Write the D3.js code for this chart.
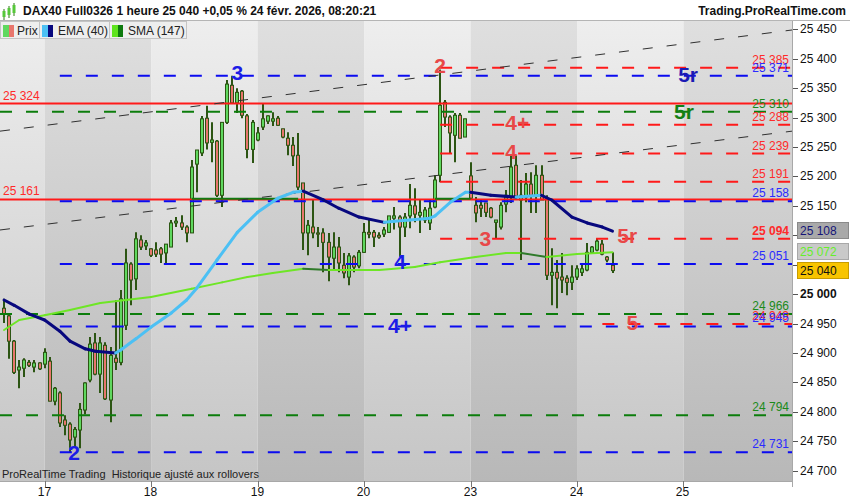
<!DOCTYPE html>
<html><head><meta charset="utf-8">
<script src="https://cdn.jsdelivr.net/npm/d3@7"></script>
<style>body{margin:0;background:#fff;} svg{display:block;font-family:"Liberation Sans",Arial,sans-serif;}</style>
</head><body><svg id="c" width="850" height="500"></svg>
<script>
// ---- DATA (hourly candles) ----
const openP =[24976,24963,24920,24871,24874,24884,24876,24883,24881,24886,24818,24832,24786,24779,24757,24769,24803,24854,24917,24864,24913,24820,24891,24884,24947,25051,25026,25092,25082,25077,25075,25077,25070,25080,25121,25121,25114,25104,25221,25240,25299,25258,25260,25168,25292,25355,25325,25345,25303,25246,25262,25284,25294,25294,25299,25281,25265,25253,25236,25189,25104,25114,25104,25104,25088,25061,25080,25049,25029,25063,25048,25071,25105,25105,25100,25102,25105,25129,25131,25114,25133,25150,25134,25126,25121,25148,25202,25326,25301,25270,25304,25267,25201,25151,25151,25155,25146,25122,25114,25153,25165,25219,25160,25165,25187,25168,25202,25162,25032,25037,25029,25027,25020,25029,25037,25041,25071,25075,25085,25063,25049];
const highP =[24992,24968,24922,24888,24891,24888,24888,24884,24908,24893,24842,24835,24794,24782,24774,24815,24850,24927,24934,24927,24918,24910,24990,25007,25077,25054,25105,25100,25092,25078,25088,25080,25085,25126,25131,25134,25117,25228,25245,25303,25320,25292,25262,25292,25364,25371,25350,25347,25306,25296,25284,25325,25304,25309,25303,25281,25275,25267,25274,25189,25126,25160,25114,25112,25104,25105,25097,25070,25070,25066,25075,25121,25126,25109,25105,25114,25133,25148,25134,25138,25187,25180,25160,25148,25160,25202,25382,25330,25304,25308,25308,25298,25224,25165,25160,25155,25148,25126,25156,25177,25236,25236,25194,25206,25207,25219,25219,25168,25078,25058,25070,25032,25049,25049,25053,25087,25082,25095,25092,25065,25071];
const lowP  =[24951,24890,24864,24840,24859,24876,24867,24871,24874,24818,24811,24774,24760,24731,24740,24738,24796,24850,24862,24832,24820,24782,24871,24879,24939,24981,25007,25075,25075,25063,25063,25053,25053,25080,25114,25109,25088,25104,25173,25235,25246,25224,25165,25148,25289,25323,25308,25299,25231,25223,25260,25279,25289,25286,25286,25265,25236,25218,25177,25075,25066,25095,25080,25037,25022,25041,25037,25027,25015,25037,25044,25070,25095,25080,25094,25097,25104,25110,25063,25097,25112,25122,25104,25121,25109,25146,25190,25284,25240,25224,25265,25267,25160,25122,25131,25131,25129,25095,25110,25139,25155,25162,25058,25156,25138,25138,25160,25024,24981,24976,25002,24998,25007,25024,25031,25039,25070,25073,25066,25054,25036];
const closeP=[24966,24920,24867,24876,24888,24879,24883,24873,24901,24818,24840,24781,24777,24752,24770,24804,24849,24915,24864,24917,24822,24896,24884,24992,25053,25024,25094,25080,25087,25066,25068,25068,25085,25121,25124,25114,25104,25216,25245,25298,25257,25262,25168,25292,25357,25325,25343,25304,25246,25292,25274,25298,25303,25298,25287,25267,25253,25235,25182,25104,25117,25104,25102,25088,25063,25080,25053,25036,25065,25046,25071,25105,25102,25097,25097,25109,25133,25133,25114,25131,25151,25136,25139,25143,25146,25194,25321,25301,25274,25304,25265,25298,25163,25138,25146,25139,25131,25126,25151,25168,25216,25165,25168,25187,25168,25202,25160,25032,25037,25027,25024,25020,25029,25043,25043,25071,25080,25090,25068,25058,25040];

const dayLabels=["17","18","19","20","23","24","25"];
const dayStart =[8,29,50,71,92,113,134];

const emaIdx=[0,2,5,8,11,13,16,18,22,23,26,29,33,36,38,42,46,50,54,57,59,63,66,70,75,77,80,84,85,88,91,92,96,101,106,108,112,115,118,120];
const emaVal=[24990,24981,24966,24956,24937,24920,24907,24903,24900,24905,24924,24944,24968,24990,25010,25058,25105,25139,25163,25173,25175,25160,25146,25131,25122,25124,25126,25129,25133,25156,25173,25173,25168,25165,25168,25160,25131,25121,25114,25107];

const smaIdx=[0,3,8,13,19,29,37,43,48,53,59,64,74,81,86,93,99,102,107,113,120];
const smaVal=[24939,24956,24964,24973,24985,24995,25009,25020,25029,25036,25043,25041,25041,25046,25054,25063,25070,25070,25063,25068,25071];

const levelVals =[25385,25371,25324,25310,25288,25239,25191,25161,25158,25094,25051,24966,24949,24945,24794,24731];
const levelColor=["red","blue","red","green","red","red","red","red","blue","red","blue","green","red","blue","green","blue"];
const levelSolid=[false,false,true,false,false,false,false,true,false,false,false,false,false,false,false,false];
const levelStart=[86,11,-0.8,-0.8,86,86,86,-0.8,11,86,11,-0.8,118,11,-0.8,11];
const levelLabelLeft=[false,false,true,false,false,false,false,true,false,false,false,false,false,false,false,false];

const trendIdx=[-0.8,155.4];
const trendUpper=[25277,25449];
const trendLower=[25109,25277];

const annText =["3","2","2","5r","5r","4+","4","3","5r","4","4+","5"];
const annIdx  =[46,86,13.8,134.9,134.1,101.2,100,94.9,122.9,78.1,78.1,123.9];
const annVal  =[25377,25388,24731,25374,25311,25291,25243,25095,25099,25056,24947,24952];
const annColor=["blue","red","blue","navy","darkgreen","red","red","red","red","blue","blue","red"];

const lastPrice=25040, emaLast=25108, smaLast=25072;
const axisTicks=d3.range(24700,25451,50);

// ---- DRAWING ----
const W=850,H=500, plotL=0, plotR=792, plotT=21, plotB=481;
const svg=d3.select("#c");
const xs=d3.scaleLinear().domain([-0.8,155.4]).range([plotL,plotR]);
const ys=d3.scaleLinear().domain([24700,25450]).range([470.6,29.4]);
const fmt=v=>d3.format(",")(Math.round(v)).replace(/,/g," ");
const colMap={red:"#ff1a1a",blue:"#0b0bf0",green:"#0c7d0c"};
const txtMap={red:"#ff2a2a",blue:"#2a2aff",green:"#1b8a1b"};
const annMap={red:"#e84848",blue:"#1c1ce6",navy:"#1a1ab4",darkgreen:"#138013"};

const defs=svg.append("defs");
function grad(id,c1,c2){const g=defs.append("linearGradient").attr("id",id).attr("gradientUnits","userSpaceOnUse").attr("x1",0).attr("x2",0).attr("y1",plotT).attr("y2",plotB);
 g.append("stop").attr("offset",0).attr("stop-color",c1);g.append("stop").attr("offset",1).attr("stop-color",c2);}
grad("gl","#eeeeee","#c5c5c5");
grad("gd","#dfdfdf","#b8b8b8");
defs.append("clipPath").attr("id","clip").append("rect").attr("x",plotL).attr("y",plotT).attr("width",plotR-plotL).attr("height",plotB-plotT);

// background bands
const bounds=[plotL].concat(dayStart.map(d=>xs(d))).concat([plotR]);
for(let k=0;k<bounds.length-1;k++){
  svg.append("rect").attr("x",bounds[k]).attr("y",plotT).attr("width",bounds[k+1]-bounds[k]).attr("height",plotB-plotT)
   .attr("fill",k%2===0?"url(#gl)":"url(#gd)");
}
// header
svg.append("rect").attr("x",0).attr("y",0).attr("width",W).attr("height",plotT).attr("fill","#ffffff");
svg.append("line").attr("x1",0).attr("x2",W).attr("y1",plotT-0.5).attr("y2",plotT-0.5).attr("stroke","#b5b5b5");
svg.append("rect").attr("x",plotR).attr("y",plotT).attr("width",W-plotR).attr("height",plotB-plotT).attr("fill","#ffffff");
svg.append("rect").attr("x",0).attr("y",plotB).attr("width",W).attr("height",H-plotB).attr("fill","#ffffff");

const g=svg.append("g").attr("clip-path","url(#clip)");

// candles
const cw=g.append("g");
openP.forEach((o,i)=>{
  const c=closeP[i],h=highP[i],l=lowP[i];
  const xc=Math.round(xs(i));
  cw.append("line").attr("x1",xc).attr("x2",xc).attr("y1",ys(h)).attr("y2",ys(l)).attr("stroke","#2c5513").attr("stroke-width",2);
  const top=ys(Math.max(o,c)), bot=ys(Math.min(o,c));
  cw.append("rect").attr("x",xc-1.5).attr("y",top).attr("width",3).attr("height",Math.max(bot-top,1))
    .attr("fill",c>=o?"#5fd85f":"#e8766d").attr("stroke","#2c5513").attr("stroke-width",1);
});

// levels
levelVals.forEach((v,k)=>{
  g.append("line").attr("x1",xs(levelStart[k])).attr("x2",plotR).attr("y1",ys(v)).attr("y2",ys(v))
   .attr("stroke",colMap[levelColor[k]]).attr("stroke-width",2)
   .attr("stroke-dasharray",levelSolid[k]?null:"12,14");
});
// green solid segments near 25 161
[[37,58],[85,92]].forEach(s=>{
  g.append("line").attr("x1",xs(s[0])).attr("x2",xs(s[1])).attr("y1",ys(25162)).attr("y2",ys(25162)).attr("stroke","#117a11").attr("stroke-width",2);
});
// trend lines
[trendUpper,trendLower].forEach(t=>{
  g.append("line").attr("x1",xs(trendIdx[0])).attr("x2",xs(trendIdx[1])).attr("y1",ys(t[0])).attr("y2",ys(t[1]))
   .attr("stroke","#303030").attr("stroke-width",1).attr("stroke-dasharray","10,14");
});

// indicators (colour by direction)
function indic(idx,val,up,down,w){
  for(let k=0;k<idx.length-1;k++){
    g.append("line").attr("x1",xs(idx[k])).attr("y1",ys(val[k])).attr("x2",xs(idx[k+1])).attr("y2",ys(val[k+1]))
     .attr("stroke",val[k+1]>=val[k]?up:down).attr("stroke-width",w).attr("stroke-linecap","round");
  }
}
indic(smaIdx,smaVal,"#6ee626","#2f7a2a",2);
indic(emaIdx,emaVal,"#4cc0f4","#08087e",3);

// level labels
levelVals.forEach((v,k)=>{
  const left=levelLabelLeft[k];
  svg.append("text").attr("x",left?3:789).attr("y",ys(v)-4).attr("text-anchor",left?"start":"end")
   .attr("font-size",12).attr("font-weight",v===25094?"bold":"normal").attr("fill",txtMap[levelColor[k]]).text(fmt(v));
});

// annotations
annText.forEach((t,k)=>{
  svg.append("text").attr("x",xs(annIdx[k])).attr("y",ys(annVal[k])).attr("text-anchor","middle").attr("dominant-baseline","central")
   .attr("font-size",21).attr("font-weight","bold").attr("fill",annMap[annColor[k]]).text(t);
});

// bottom-left note
svg.append("text").attr("x",2).attr("y",478).attr("font-size",11).attr("fill","#222").text("ProRealTime Trading\u00a0 Historique ajusté aux rollovers");

// right axis
const boxVals=[emaLast,smaLast,lastPrice];
svg.append("line").attr("x1",plotR+0.5).attr("x2",plotR+0.5).attr("y1",plotT).attr("y2",plotB+6).attr("stroke","#a8a8a8");
axisTicks.forEach(v=>{
  svg.append("line").attr("x1",plotR+1).attr("x2",plotR+6).attr("y1",Math.round(ys(v))+0.5).attr("y2",Math.round(ys(v))+0.5).attr("stroke","#555");
  const hidden=boxVals.some(b=>Math.abs(ys(b)-ys(v))<12);
  if(!hidden) svg.append("text").attr("x",800).attr("y",ys(v)).attr("dominant-baseline","central").attr("font-size",12)
   .attr("font-weight",v===25000?"bold":"normal").attr("fill","#111").text(fmt(v));
});
// value boxes
function box(v,fill,stroke,tc){
  const y=ys(v);
  svg.append("rect").attr("x",797.5).attr("y",Math.round(y)-8.5).attr("width",51).attr("height",16).attr("fill",fill).attr("stroke",stroke);
  svg.append("text").attr("x",800).attr("y",y).attr("dominant-baseline","central").attr("font-size",12).attr("fill",tc).text(fmt(v));
}
box(emaLast,"#a9a9a9","#8a8a8a","#141478");
box(smaLast,"#c9c9c9","#a8a8a8","#66ee2a");
box(lastPrice,"#f8c400","#c89c00","#111");

// bottom axis
svg.append("line").attr("x1",0).attr("x2",plotR).attr("y1",plotB+0.5).attr("y2",plotB+0.5).attr("stroke","#a8a8a8");
dayStart.forEach((d,k)=>{
  const x=Math.round(xs(d))+0.5;
  svg.append("line").attr("x1",x).attr("x2",x).attr("y1",plotB).attr("y2",plotB+6).attr("stroke","#777");
  svg.append("text").attr("x",x-1).attr("y",492).attr("text-anchor","middle").attr("dominant-baseline","central").attr("font-size",12).attr("fill","#111").text(dayLabels[k]);
});

// header title + icon
const ic=svg.append("g");
[[4,9,14,2],[9,6,12,1],[14,3,10,2]].forEach(a=>{
  ic.append("line").attr("x1",a[0]).attr("x2",a[0]).attr("y1",a[1]).attr("y2",a[2]+6).attr("stroke","#2c7a13");
  ic.append("rect").attr("x",a[0]-1.5).attr("y",a[1]+2).attr("width",3).attr("height",a[2]-a[1]+1).attr("fill","#56c83a");
});
svg.append("text").attr("x",23).attr("y",15).attr("font-size",12).attr("font-weight","bold").attr("fill","#111")
  .text("DAX40 Full0326 1 heure 25 040 +0,05 % 24 févr. 2026, 08:20:21");
svg.append("text").attr("x",846).attr("y",15).attr("text-anchor","end").attr("font-size",12).attr("font-weight","bold").attr("fill","#111").text("Trading.ProRealTime.com");

// legend tabs
const tabs=[{x:0,w:39,label:"Prix",c1:"#5fd85f",c2:"#e8766d"},{x:39,w:70,label:"EMA (40)",c1:"#4cc0f4",c2:"#08087e"},{x:109,w:77,label:"SMA (147)",c1:"#5ee41e",c2:"#0e7a0e"}];
tabs.forEach(t=>{
  svg.append("rect").attr("x",t.x+0.5).attr("y",plotT+0.5).attr("width",t.w).attr("height",17).attr("fill","#eeeeee").attr("stroke","#c4c4c4");
  svg.append("rect").attr("x",t.x+3).attr("y",plotT+4).attr("width",6).attr("height",12).attr("fill",t.c1);
  svg.append("rect").attr("x",t.x+9).attr("y",plotT+4).attr("width",5).attr("height",12).attr("fill",t.c2);
  svg.append("text").attr("x",t.x+(t.label==="Prix"?17:19)).attr("y",plotT+14).attr("font-size",12).attr("fill","#222").text(t.label);
});
</script></body></html>
